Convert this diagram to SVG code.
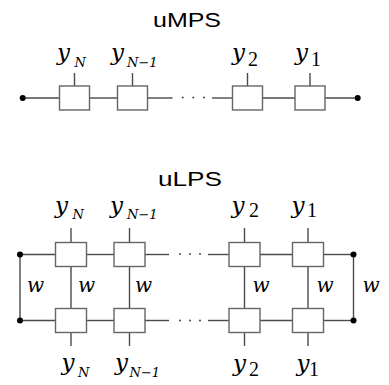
<svg xmlns="http://www.w3.org/2000/svg" width="389" height="385" viewBox="0 0 389 385">
  <style>
    .title { font-family: "Liberation Sans", Arial, sans-serif; font-size: 19.5px; fill: #000; }
    .ln { stroke: #4a4a4a; stroke-width: 1.4; fill: none; }
    .box { fill: #fff; stroke: #666; stroke-width: 1.4; }
    .dot { fill: #000; }
    .ell { fill: #555; }
    .v { font-family: "DejaVu Serif", serif; font-style: italic; font-size: 23px; fill: #000; }
    .sn { font-family: "DejaVu Serif", serif; font-style: italic; font-size: 13px; }
    .sd { font-family: "Liberation Serif", serif; font-style: normal; font-size: 20px; }
    .w { font-family: "DejaVu Serif", serif; font-style: italic; font-size: 20px; fill: #000; }
  </style>

  <!-- uMPS: single chain -->
  <text class="title" x="153" y="27" textLength="68" lengthAdjust="spacingAndGlyphs">uMPS</text>

  <g id="mps-connectors">
    <line class="ln" x1="22.7" y1="98" x2="59.5" y2="98"/>
    <line class="ln" x1="89.5" y1="98" x2="117.5" y2="98"/>
    <line class="ln" x1="147.5" y1="98" x2="172.5" y2="98"/>
    <line class="ln" x1="212" y1="98" x2="232.5" y2="98"/>
    <line class="ln" x1="262.5" y1="98" x2="295" y2="98"/>
    <line class="ln" x1="325" y1="98" x2="357.7" y2="98"/>
    <line class="ln" x1="74.5" y1="73" x2="74.5" y2="86"/>
    <line class="ln" x1="132.5" y1="73" x2="132.5" y2="86"/>
    <line class="ln" x1="247.5" y1="73" x2="247.5" y2="86"/>
    <line class="ln" x1="310" y1="73" x2="310" y2="86"/>
    <circle class="dot" cx="22.7" cy="98" r="3"/>
    <circle class="dot" cx="357.7" cy="98" r="3"/>
    <circle class="ell" cx="182.7" cy="97.5" r="1.1"/>
    <circle class="ell" cx="193.3" cy="97.5" r="1.1"/>
    <circle class="ell" cx="204" cy="97.5" r="1.1"/>
  </g>

  <g id="mps-N"><rect class="box" x="59.5" y="86" width="30" height="24"/>
    <text class="v" x="57" y="60">y<tspan class="sn" x="74.5" y="67">N</tspan></text></g>
  <g id="mps-N1"><rect class="box" x="117.5" y="86" width="30" height="24"/>
    <text class="v" x="111" y="60">y<tspan class="sn" x="127" y="67">N−1</tspan></text></g>
  <g id="mps-2"><rect class="box" x="232.5" y="86" width="30" height="24"/>
    <text class="v" x="232" y="60">y<tspan class="sd" x="248" y="66">2</tspan></text></g>
  <g id="mps-1"><rect class="box" x="295" y="86" width="30" height="24"/>
    <text class="v" x="295" y="60">y<tspan class="sd" x="311" y="66">1</tspan></text></g>

  <!-- uLPS: two chains joined by vertical bonds -->
  <text class="title" x="158" y="186" textLength="64" lengthAdjust="spacingAndGlyphs">uLPS</text>

  <g id="lps-connectors">
    <!-- top row -->
    <line class="ln" x1="20" y1="254.5" x2="55.5" y2="254.5"/>
    <line class="ln" x1="86.5" y1="254.5" x2="114" y2="254.5"/>
    <line class="ln" x1="145" y1="254.5" x2="169" y2="254.5"/>
    <line class="ln" x1="208" y1="254.5" x2="229" y2="254.5"/>
    <line class="ln" x1="260" y1="254.5" x2="292.5" y2="254.5"/>
    <line class="ln" x1="323.5" y1="254.5" x2="353.5" y2="254.5"/>
    <!-- bottom row -->
    <line class="ln" x1="20" y1="320.5" x2="55.5" y2="320.5"/>
    <line class="ln" x1="86.5" y1="320.5" x2="114" y2="320.5"/>
    <line class="ln" x1="145" y1="320.5" x2="169" y2="320.5"/>
    <line class="ln" x1="208" y1="320.5" x2="229" y2="320.5"/>
    <line class="ln" x1="260" y1="320.5" x2="292.5" y2="320.5"/>
    <line class="ln" x1="323.5" y1="320.5" x2="353.5" y2="320.5"/>
    <!-- vertical w bonds -->
    <line class="ln" x1="20" y1="254.5" x2="20" y2="320.5"/>
    <line class="ln" x1="71" y1="266.5" x2="71" y2="308.5"/>
    <line class="ln" x1="129.5" y1="266.5" x2="129.5" y2="308.5"/>
    <line class="ln" x1="244.5" y1="266.5" x2="244.5" y2="308.5"/>
    <line class="ln" x1="308" y1="266.5" x2="308" y2="308.5"/>
    <line class="ln" x1="353.5" y1="254.5" x2="353.5" y2="320.5"/>
    <!-- physical legs -->
    <line class="ln" x1="71" y1="228" x2="71" y2="242.5"/>
    <line class="ln" x1="129.5" y1="228" x2="129.5" y2="242.5"/>
    <line class="ln" x1="244.5" y1="228" x2="244.5" y2="242.5"/>
    <line class="ln" x1="308" y1="228" x2="308" y2="242.5"/>
    <line class="ln" x1="71" y1="332.5" x2="71" y2="346"/>
    <line class="ln" x1="129.5" y1="332.5" x2="129.5" y2="346"/>
    <line class="ln" x1="244.5" y1="332.5" x2="244.5" y2="346"/>
    <line class="ln" x1="308" y1="332.5" x2="308" y2="346"/>
    <circle class="dot" cx="20" cy="254.5" r="3"/>
    <circle class="dot" cx="20" cy="320.5" r="3"/>
    <circle class="dot" cx="353.5" cy="254.5" r="3"/>
    <circle class="dot" cx="353.5" cy="320.5" r="3"/>
    <circle class="ell" cx="180" cy="254" r="1.1"/>
    <circle class="ell" cx="190" cy="254" r="1.1"/>
    <circle class="ell" cx="200" cy="254" r="1.1"/>
    <circle class="ell" cx="180" cy="320.5" r="1.1"/>
    <circle class="ell" cx="190" cy="320.5" r="1.1"/>
    <circle class="ell" cx="200" cy="320.5" r="1.1"/>
    <text class="w" x="27" y="292">w</text>
    <text class="w" x="78" y="292">w</text>
    <text class="w" x="135" y="292">w</text>
    <text class="w" x="252.5" y="292">w</text>
    <text class="w" x="316.5" y="292">w</text>
    <text class="w" x="362.5" y="292">w</text>
  </g>

  <g id="lps-top-N"><rect class="box" x="55.5" y="242.5" width="31" height="24"/>
    <text class="v" x="55" y="213">y<tspan class="sn" x="72.5" y="219">N</tspan></text></g>
  <g id="lps-top-N1"><rect class="box" x="114" y="242.5" width="31" height="24"/>
    <text class="v" x="110" y="213">y<tspan class="sn" x="127" y="219">N−1</tspan></text></g>
  <g id="lps-top-2"><rect class="box" x="229" y="242.5" width="31" height="24"/>
    <text class="v" x="231.5" y="213">y<tspan class="sd" x="249" y="217">2</tspan></text></g>
  <g id="lps-top-1"><rect class="box" x="292.5" y="242.5" width="31" height="24"/>
    <text class="v" x="291.5" y="213">y<tspan class="sd" x="307" y="217">1</tspan></text></g>

  <g id="lps-bot-N"><rect class="box" x="55.5" y="308.5" width="31" height="24"/>
    <text class="v" x="61.5" y="370">y<tspan class="sn" x="78" y="377">N</tspan></text></g>
  <g id="lps-bot-N1"><rect class="box" x="114" y="308.5" width="31" height="24"/>
    <text class="v" x="115" y="370">y<tspan class="sn" x="129.5" y="377">N−1</tspan></text></g>
  <g id="lps-bot-2"><rect class="box" x="229" y="308.5" width="31" height="24"/>
    <text class="v" x="233" y="371">y<tspan class="sd" x="249" y="376">2</tspan></text></g>
  <g id="lps-bot-1"><rect class="box" x="292.5" y="308.5" width="31" height="24"/>
    <text class="v" x="296.5" y="371">y<tspan class="sd" x="309" y="376">1</tspan></text></g>
</svg>
